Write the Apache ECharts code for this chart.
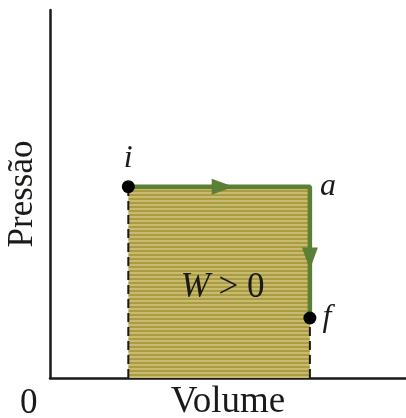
<!DOCTYPE html>
<html><head><meta charset="utf-8">
<script src="https://cdn.jsdelivr.net/npm/echarts@6/dist/echarts.min.js"></script>
<style>html,body{margin:0;padding:0;background:#fff}#c{width:406px;height:418px}</style>
</head><body><div id="c"></div>
<script>
// Data (arbitrary units: axes 0..10)
const volumes = [2.2, 7.3];          // V_i, V_f
const pressures = [5.2, 1.63];       // P_i, P_f
const pointNames = ['i', 'a', 'f'];
const arrowTop = [4.85, 5.2];        // arrow along i->a
const arrowRight = [7.3, 3.25];      // arrow along a->f
const areaLabel = [4.85, 2.45];
const areaText = ['W', ' > 0'];
const xName = 'Volume', yName = 'Pressão', originText = '0';

const Vi = volumes[0], Vf = volumes[1], Pi = pressures[0], Pf = pressures[1];
const serif = '"Liberation Serif","DejaVu Serif",serif';
const ink = '#1c1a18';
const green = '#5b7f35';

// striped fill texture
const pc = document.createElement('canvas');
pc.width = 8; pc.height = 4;
const g = pc.getContext('2d');
g.fillStyle = '#c8bb70'; g.fillRect(0, 0, 8, 2);
g.fillStyle = '#aa9c42'; g.fillRect(0, 2, 8, 2);

const chart = echarts.init(document.getElementById('c'));
chart.setOption({
  animation: false,
  backgroundColor: '#fff',
  grid: {left: 50, right: 0, top: 10, bottom: 40, containLabel: false, outerBoundsMode: 'none'},
  xAxis: {type: 'value', min: 0, max: 10, name: xName, nameLocation: 'middle', nameGap: 6,
    nameTextStyle: {fontFamily: serif, fontSize: 37, color: ink},
    axisLine: {lineStyle: {color: ink, width: 2.5}}, axisTick: {show: false},
    axisLabel: {show: false}, splitLine: {show: false}},
  yAxis: {type: 'value', min: 0, max: 10, name: yName, nameLocation: 'middle', nameGap: 10,
    nameTextStyle: {fontFamily: serif, fontSize: 35, color: ink},
    axisLine: {lineStyle: {color: ink, width: 2.5}}, axisTick: {show: false},
    axisLabel: {show: false}, splitLine: {show: false}},
  graphic: [{type: 'text', left: 20, top: 386, style: {text: originText, font: '35px ' + serif, fill: ink}}],
  series: [
    {type: 'line', data: [[Vi, Pi], [Vf, Pi]], symbol: 'none', lineStyle: {width: 0},
     areaStyle: {color: {image: pc, repeat: 'repeat'}, opacity: 1}, z: 1},
    {type: 'line', data: [[Vi, 0], [Vi, Pi]], symbol: 'none',
     lineStyle: {color: ink, width: 2, type: [9, 5]}, z: 3},
    {type: 'line', data: [[Vf, 0], [Vf, Pf]], symbol: 'none',
     lineStyle: {color: ink, width: 2, type: [9, 5]}, z: 3},
    {type: 'line', data: [[Vi, Pi], [Vf, Pi], [Vf, Pf]], symbol: 'none',
     lineStyle: {color: green, width: 4.5}, z: 4},
    {type: 'scatter', symbol: 'triangle', symbolSize: [16, 22], symbolRotate: -90,
     data: [arrowTop], itemStyle: {color: green, opacity: 1}, z: 5},
    {type: 'scatter', symbol: 'triangle', symbolSize: [16, 22], symbolRotate: 180,
     data: [arrowRight], itemStyle: {color: green, opacity: 1}, z: 5},
    {type: 'scatter', symbolSize: 13, itemStyle: {color: '#000', opacity: 1}, z: 6,
     data: [
       {value: [Vi, Pi], name: pointNames[0], label: {show: true, position: 'top', distance: 6}},
       {value: [Vf, Pi], name: pointNames[1], symbolSize: 0, label: {show: true, position: 'right', distance: 10}},
       {value: [Vf, Pf], name: pointNames[2], label: {show: true, position: 'right', distance: 6}}
     ],
     label: {formatter: '{b}', fontFamily: serif, fontStyle: 'italic', fontSize: 32, color: ink}},
    {type: 'scatter', symbolSize: 0, data: [{value: areaLabel, name: 'W'}], z: 6,
     itemStyle: {opacity: 1},
     label: {show: true, position: 'inside', formatter: '{w|' + areaText[0] + '}{n|' + areaText[1] + '}',
       rich: {w: {fontFamily: serif, fontStyle: 'italic', fontSize: 35, color: ink},
              n: {fontFamily: serif, fontSize: 35, color: ink}}}}
  ]
});
</script></body></html>
